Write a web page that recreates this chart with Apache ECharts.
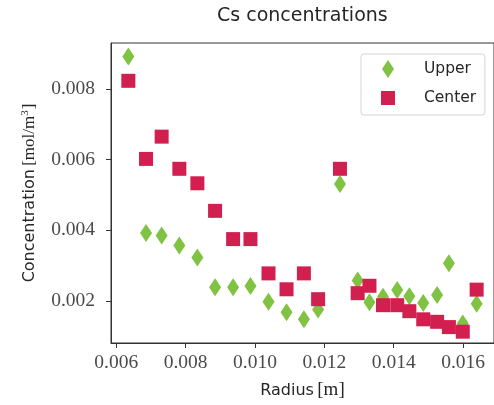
<!DOCTYPE html>
<html>
<head>
<meta charset="utf-8">
<script src="https://cdn.jsdelivr.net/npm/echarts@6/dist/echarts.min.js"></script>
<style>
  html, body { margin: 0; padding: 0; background: #fff; }
  #chart { width: 494px; height: 405px; }
</style>
</head>
<body>
<div id="chart"></div>
<script>
// Radial sample positions [m]
const radius = [0.00635, 0.00686, 0.00731, 0.00782, 0.00834, 0.00885, 0.00937, 0.00987,
                0.01039, 0.01091, 0.01141, 0.01182, 0.01245, 0.01296, 0.01330, 0.01369,
                0.01410, 0.01445, 0.01485, 0.01525, 0.01559, 0.01599, 0.01639];

// Cs concentration [mol/m^3] at the upper and center locations
const upper = [0.00892, 0.00392, 0.00385, 0.00357, 0.00323, 0.00239, 0.00239, 0.00242,
               0.00198, 0.00168, 0.00148, 0.00176, 0.00531, 0.00258, 0.00196, 0.00212,
               0.00231, 0.00213, 0.00194, 0.00217, 0.00307, 0.00136, 0.00192];
const center = [0.00823, 0.00602, 0.00665, 0.00574, 0.00533, 0.00455, 0.00375, 0.00375,
                0.00278, 0.00233, 0.00278, 0.00205, 0.00574, 0.00222, 0.00243, 0.00188,
                0.00188, 0.00171, 0.00148, 0.00141, 0.00126, 0.00113, 0.00232];

// Tick labels
const xTicks = [0.006, 0.008, 0.010, 0.012, 0.014, 0.016];
const yTicks = [0.002, 0.004, 0.006, 0.008];

const GREEN = '#80c242';
const RED = '#d11f4f';
const SERIF = 'Liberation Serif';
const SANS = 'DejaVu Sans';
const DIAMOND = 'path://M6,0L12,9L6,18L0,9Z';

const pairs = (xs, ys) => xs.map((x, i) => [x, ys[i]]);

const chart = echarts.init(document.getElementById('chart'), null, { renderer: 'canvas' });

chart.setOption({
  animation: false,
  backgroundColor: '#fff',
  title: {
    text: 'Cs concentrations',
    left: 217,
    top: 7,
    padding: 0,
    textStyle: { fontFamily: SANS, fontSize: 19, fontWeight: 'normal', color: '#262626' }
  },
  legend: [
    {
      data: [{ name: 'Upper', icon: DIAMOND }],
      left: 361,
      top: 54,
      orient: 'vertical',
      itemWidth: 12,
      itemHeight: 18,
      padding: [6, 14, 37, 21],
      backgroundColor: 'rgba(255,255,255,0.8)',
      borderColor: '#d4d4d4',
      borderWidth: 1,
      borderRadius: 3,
      textStyle: { fontFamily: SANS, fontSize: 15.5, color: '#262626', padding: [0, 0, 0, 25] }
    },
    {
      data: [{ name: 'Center', icon: 'rect' }],
      left: 381,
      top: 90,
      orient: 'vertical',
      itemWidth: 14,
      itemHeight: 14,
      padding: 0,
      textStyle: { fontFamily: SANS, fontSize: 15.5, color: '#262626', padding: [0, 0, 0, 24] }
    }
  ],
  grid: {
    left: 111,
    top: 43,
    right: -4,
    bottom: 62,
    show: true,
    borderColor: '#333',
    borderWidth: 1,
    backgroundColor: 'transparent'
  },
  xAxis: {
    type: 'value',
    min: 0.00585,
    max: 0.01689,
    name: '{s|Radius} {m|[m]}',
    nameLocation: 'middle',
    nameGap: 38,
    nameTextStyle: {
      rich: {
        s: { fontFamily: SANS, fontSize: 16, color: '#262626' },
        m: { fontFamily: SERIF, fontSize: 19, color: '#262626' }
      }
    },
    splitLine: { show: false },
    axisLine: { show: true, lineStyle: { color: '#333', width: 1 } },
    axisTick: { show: true, inside: false, length: 5, customValues: xTicks, lineStyle: { color: '#333' } },
    axisLabel: {
      customValues: xTicks,
      margin: 10,
      fontFamily: SERIF,
      fontSize: 19.5,
      color: '#4a4a4a',
      formatter: v => v.toFixed(3)
    }
  },
  yAxis: {
    type: 'value',
    min: 0.00081,
    max: 0.0093,
    name: '{s|Concentration} {m|[mol/m}{u|3}{m|]}',
    nameLocation: 'middle',
    nameRotate: 90,
    nameGap: 72,
    nameTextStyle: {
      rich: {
        s: { fontFamily: SANS, fontSize: 16, color: '#262626' },
        m: { fontFamily: SERIF, fontSize: 17, color: '#262626' },
        u: { fontFamily: SERIF, fontSize: 11, color: '#262626', verticalAlign: 'top', padding: [0, 1, 8, 0] }
      }
    },
    splitLine: { show: false },
    axisLine: { show: true, lineStyle: { color: '#333', width: 1 } },
    axisTick: { show: true, inside: false, length: 5, customValues: yTicks, lineStyle: { color: '#333' } },
    axisLabel: {
      customValues: yTicks,
      margin: 16,
      fontFamily: SERIF,
      fontSize: 19.5,
      color: '#4a4a4a',
      formatter: v => v.toFixed(3)
    }
  },
  series: [
    {
      name: 'Upper',
      type: 'scatter',
      symbol: DIAMOND,
      symbolSize: [12, 18],
      itemStyle: { color: GREEN, opacity: 1 },
      data: pairs(radius, upper),
      z: 2
    },
    {
      name: 'Center',
      type: 'scatter',
      symbol: 'rect',
      symbolSize: 14,
      itemStyle: { color: RED, opacity: 1 },
      data: pairs(radius, center),
      z: 3
    }
  ]
});
</script>
</body>
</html>
